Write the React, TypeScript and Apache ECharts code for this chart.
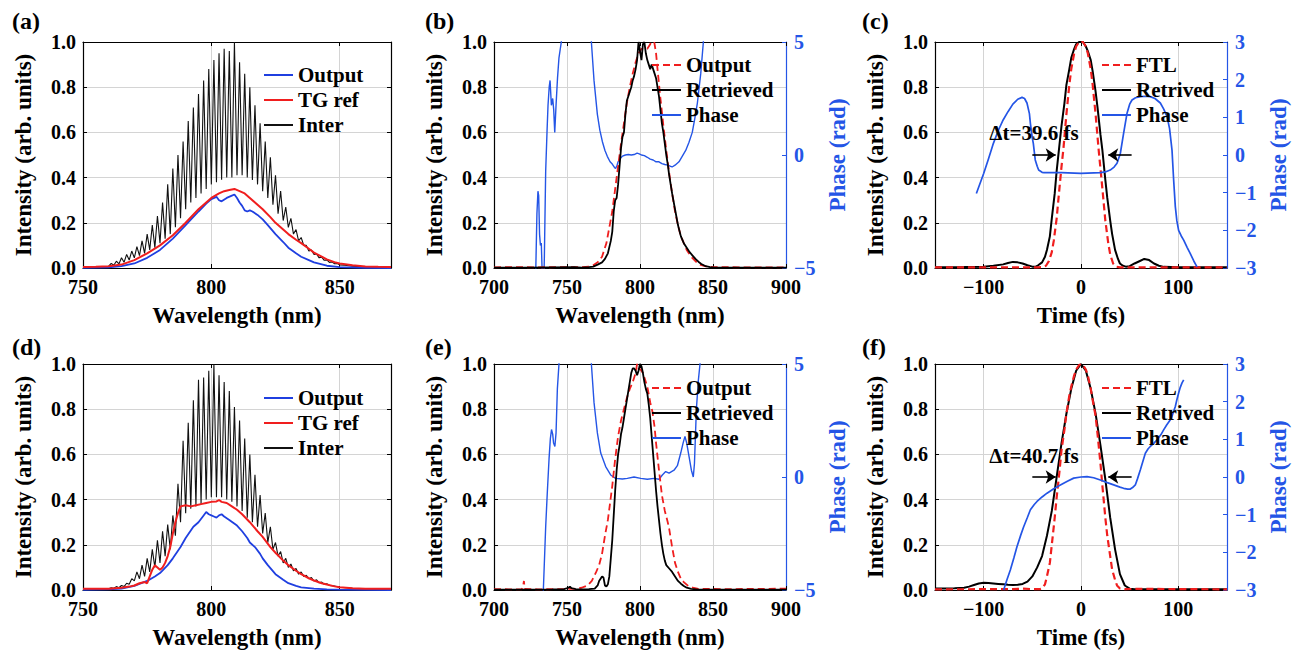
import React, { useEffect, useRef } from "react";
import * as echarts from "echarts";

const FONT = "Liberation Serif";
const BLUE_OUT = "#1f3fe0";
const BLUE_PH = "#2455e6";
const RED = "#f01e1e";
const GRIDC = "#d4d4d4";

// ---------- Panel (a) ----------
const aInter: number[][] = [
  [750, 0.002], [755, 0.004], [758, 0.006],
  [760, 0.008], [761, 0.02], [762, 0.012], [763, 0.03], [764, 0.018], [765, 0.045], [766, 0.025], [767, 0.06], [768, 0.035], [769, 0.075],
  [770, 0.045], [771, 0.095], [772, 0.055], [773, 0.12], [774, 0.065], [775, 0.15], [776, 0.08], [777, 0.19], [778, 0.09], [779, 0.23],
  [780, 0.11], [781, 0.29], [782, 0.13], [783, 0.37], [784, 0.15], [785, 0.44], [786, 0.18], [787, 0.5], [788, 0.22], [789, 0.56],
  [790, 0.26], [791, 0.65], [792, 0.29], [793, 0.71], [794, 0.31], [795, 0.77], [796, 0.33], [797, 0.83], [798, 0.35], [799, 0.88],
  [800, 0.37], [801, 0.92], [802, 0.38], [803, 0.95], [804, 0.39], [805, 0.97], [806, 0.4], [807, 0.96], [808, 0.4], [809, 1.0],
  [810, 0.41], [811, 0.91], [812, 0.41], [813, 0.86], [814, 0.4], [815, 0.8], [816, 0.39], [817, 0.72], [818, 0.37], [819, 0.64],
  [820, 0.34], [821, 0.56], [822, 0.31], [823, 0.49], [824, 0.28], [825, 0.41], [826, 0.24], [827, 0.34], [828, 0.21], [829, 0.27],
  [830, 0.18], [831, 0.22], [832, 0.15], [833, 0.17], [834, 0.12], [835, 0.135], [836, 0.1], [837, 0.1], [838, 0.075], [839, 0.08],
  [840, 0.06], [841, 0.062], [842, 0.045], [843, 0.048], [844, 0.034], [845, 0.036], [846, 0.025], [847, 0.027], [848, 0.019], [849, 0.02],
  [850, 0.014], [852, 0.012], [855, 0.008], [860, 0.005], [865, 0.003], [870, 0.002],
];
const aTG: number[][] = [
  [750, 0.004], [755, 0.005], [760, 0.008], [765, 0.015], [770, 0.035], [775, 0.065], [780, 0.1], [785, 0.145], [790, 0.2], [795, 0.26],
  [800, 0.31], [803, 0.33], [805, 0.34], [807, 0.345], [809, 0.35], [811, 0.34], [813, 0.33], [815, 0.31], [818, 0.28], [820, 0.26],
  [823, 0.225], [825, 0.2], [828, 0.17], [830, 0.15], [833, 0.125], [835, 0.11], [838, 0.085], [840, 0.068], [843, 0.05], [845, 0.038],
  [848, 0.026], [850, 0.02], [855, 0.012], [860, 0.007], [865, 0.005], [870, 0.004],
];
const aOut: number[][] = [
  [750, 0.001], [760, 0.003], [765, 0.008], [770, 0.02], [775, 0.045], [780, 0.08], [785, 0.13], [790, 0.19], [795, 0.25], [798, 0.285],
  [800, 0.305], [802, 0.315], [803, 0.3], [804, 0.295], [806, 0.31], [808, 0.32], [809, 0.325], [810, 0.31], [811, 0.29], [812, 0.275],
  [813, 0.255], [814, 0.25], [815, 0.255], [816, 0.25], [818, 0.235], [820, 0.215], [822, 0.19], [825, 0.15], [828, 0.115], [830, 0.09],
  [833, 0.065], [835, 0.05], [838, 0.035], [840, 0.025], [845, 0.01], [850, 0.004], [860, 0.001], [870, 0],
];

// ---------- Panel (d) ----------
const dInter: number[][] = [
  [750, 0.003], [755, 0.004], [758, 0.005],
  [760, 0.005], [761, 0.01], [762, 0.008], [763, 0.015], [764, 0.01], [765, 0.02], [766, 0.015], [767, 0.03], [768, 0.025], [769, 0.05],
  [770, 0.04], [771, 0.08], [772, 0.05], [773, 0.11], [774, 0.06], [775, 0.14], [776, 0.08], [777, 0.18], [778, 0.1], [779, 0.22],
  [780, 0.12], [781, 0.26], [782, 0.15], [783, 0.29], [784, 0.18], [785, 0.33], [786, 0.24], [787, 0.47], [788, 0.3], [789, 0.66],
  [790, 0.34], [791, 0.74], [792, 0.36], [793, 0.84], [794, 0.37], [795, 0.93], [796, 0.38], [797, 0.94], [798, 0.4], [799, 0.97],
  [800, 0.41], [801, 1.0], [802, 0.41], [803, 0.95], [804, 0.41], [805, 0.92], [806, 0.4], [807, 0.88], [808, 0.39], [809, 0.81],
  [810, 0.37], [811, 0.75], [812, 0.35], [813, 0.67], [814, 0.32], [815, 0.6], [816, 0.3], [817, 0.51], [818, 0.28], [819, 0.42],
  [820, 0.25], [821, 0.34], [822, 0.21], [823, 0.28], [824, 0.18], [825, 0.21], [826, 0.15], [827, 0.17], [828, 0.12], [829, 0.14],
  [830, 0.1], [831, 0.115], [832, 0.085], [833, 0.095], [834, 0.07], [835, 0.08], [836, 0.06], [837, 0.065], [838, 0.05], [839, 0.055],
  [840, 0.04], [841, 0.045], [842, 0.032], [843, 0.035], [844, 0.025], [845, 0.028], [846, 0.02], [848, 0.018], [850, 0.012],
  [855, 0.008], [860, 0.005], [870, 0.003],
];
const dTG: number[][] = [
  [750, 0.006], [755, 0.005], [760, 0.006], [765, 0.01], [768, 0.015], [770, 0.02], [772, 0.03], [774, 0.035], [775, 0.03], [776, 0.06],
  [777, 0.09], [778, 0.11], [779, 0.1], [780, 0.09], [781, 0.1], [782, 0.12], [783, 0.15], [784, 0.19], [785, 0.25], [786, 0.3],
  [787, 0.34], [788, 0.37], [790, 0.375], [792, 0.37], [794, 0.375], [796, 0.38], [798, 0.385], [800, 0.39], [802, 0.392], [803, 0.398],
  [804, 0.39], [806, 0.385], [808, 0.37], [810, 0.355], [812, 0.335], [815, 0.3], [818, 0.26], [820, 0.235], [823, 0.19], [825, 0.165],
  [828, 0.13], [830, 0.11], [833, 0.085], [835, 0.07], [838, 0.052], [840, 0.042], [843, 0.03], [845, 0.024], [848, 0.016], [850, 0.012],
  [855, 0.008], [860, 0.006], [865, 0.005], [870, 0.006],
];
const dOut: number[][] = [
  [750, 0.001], [760, 0.003], [765, 0.006], [770, 0.018], [775, 0.04], [778, 0.06], [780, 0.075], [783, 0.11], [785, 0.14], [788, 0.19],
  [790, 0.23], [793, 0.28], [795, 0.3], [797, 0.33], [798, 0.345], [799, 0.335], [800, 0.33], [801, 0.325], [802, 0.32], [803, 0.33],
  [804, 0.335], [805, 0.325], [807, 0.31], [810, 0.285], [812, 0.26], [814, 0.23], [815, 0.21], [817, 0.19], [819, 0.16], [820, 0.14],
  [822, 0.11], [825, 0.07], [828, 0.045], [830, 0.03], [833, 0.018], [835, 0.012], [840, 0.006], [845, 0.003], [850, 0.002], [870, 0],
];

// ---------- Panel (b) ----------
const bRetr: number[][] = [
  [700, 0.002], [720, 0.002], [740, 0.003], [755, 0.004], [760, 0.002], [765, 0.004], [768, 0.006], [771, 0.015], [774, 0.025], [776, 0.04],
  [778, 0.065], [780, 0.12], [781, 0.16], [782, 0.25], [783, 0.3], [784, 0.31], [785, 0.37], [786, 0.45], [787, 0.53], [788, 0.58],
  [789, 0.6], [790, 0.68], [791, 0.74], [792, 0.76], [793, 0.78], [794, 0.8], [795, 0.83], [796, 0.85], [797, 0.88], [798, 0.92],
  [799, 1.0], [800, 0.96], [801, 0.92], [802, 0.99], [803, 1.0], [804, 0.95], [805, 0.92], [806, 0.9], [807, 0.88], [808, 0.9],
  [809, 0.88], [810, 0.86], [811, 0.84], [812, 0.8], [813, 0.76], [814, 0.7], [815, 0.64], [816, 0.6], [817, 0.55], [818, 0.5],
  [819, 0.46], [820, 0.41], [822, 0.33], [824, 0.26], [826, 0.19], [828, 0.14], [830, 0.11], [832, 0.09], [834, 0.07], [836, 0.055],
  [838, 0.04], [840, 0.028], [842, 0.018], [845, 0.008], [848, 0.004], [850, 0.003], [860, 0.002], [900, 0.002],
];
const bOut: number[][] = [
  [700, 0.003], [710, 0.004], [730, 0.003], [750, 0.004], [760, 0.004], [765, 0.006], [768, 0.012], [771, 0.025], [774, 0.05], [777, 0.11],
  [779, 0.18], [781, 0.25], [783, 0.35], [785, 0.45], [787, 0.55], [789, 0.64], [791, 0.73], [793, 0.8], [795, 0.86], [797, 0.91],
  [799, 0.95], [801, 0.97], [803, 0.97], [805, 0.97], [807, 0.99], [809, 1.03], [811, 0.95], [812, 0.88], [814, 0.75], [816, 0.63],
  [818, 0.52], [820, 0.42], [822, 0.33], [824, 0.25], [826, 0.19], [828, 0.14], [830, 0.11], [832, 0.08], [835, 0.05], [838, 0.03],
  [841, 0.015], [845, 0.007], [850, 0.004], [870, 0.003], [900, 0.003],
];
const bPhase: number[][] = [
  [728.3, -6], [728.8, -4.5], [729.4, -2.6], [730.1, -1.6], [730.6, -1.8], [731.2, -3.5], [731.8, -4.0], [732.4, -3.9], [733, -5.2],
  [734, -6], [734.5, -4.5], [735.4, -0.7], [736.3, 1.0], [737, 2.2], [737.8, 3.0], [738.4, 3.3], [739.3, 2.2], [740.2, 2.5], [740.9, 2.0],
  [741.6, 1.0], [742.5, 2.2], [743.5, 3.4], [744.5, 4.3], [746.1, 5.0], [747.5, 7], [750, 9], [764, 9], [765.5, 7], [766.7, 5.0],
  [768.5, 3.3], [770.8, 1.8], [772.5, 1.1], [774.2, 0.6], [776, 0.2], [777.6, -0.06], [779.5, -0.3], [781, -0.4], [782.5, -0.55],
  [783.3, -0.6], [784.3, -0.45], [785, -0.3], [786.5, -0.15], [788, -0.05], [790, 0.0], [792, 0.02], [794, 0.0], [796, 0.02], [798, 0.08],
  [799.5, 0.05], [801, 0.0], [803, -0.03], [805, -0.1], [807, -0.18], [809, -0.22], [811, -0.3], [813, -0.3], [815, -0.38], [817, -0.42],
  [819, -0.45], [821, -0.5], [822, -0.53], [824, -0.45], [826.7, -0.3], [829, -0.05], [831.3, 0.2], [833.5, 0.55], [835.8, 1.0],
  [837.5, 1.6], [839.3, 2.3], [841.6, 3.6], [843.4, 5], [844.5, 7], [846, 9],
];

// ---------- Panel (e) ----------
const eRetr: number[][] = [
  [700, 0.002], [720, 0.002], [740, 0.003], [748, 0.004], [751, 0.01], [752, 0.015], [753, 0.008], [756, 0.004], [760, 0.003], [765, 0.004],
  [769, 0.006], [771, 0.02], [772, 0.04], [773, 0.05], [774, 0.06], [775, 0.055], [776, 0.02], [777, 0.015], [778, 0.025], [779, 0.06],
  [780, 0.14], [781, 0.22], [782, 0.33], [783, 0.44], [784, 0.53], [785, 0.6], [786, 0.64], [787, 0.69], [788, 0.72], [789, 0.76],
  [790, 0.8], [791, 0.84], [792, 0.88], [793, 0.92], [794, 0.96], [795, 0.98], [796, 0.98], [797, 0.97], [798, 0.95], [799, 0.97],
  [800, 1.0], [801, 0.99], [802, 0.96], [803, 0.92], [804, 0.89], [805, 0.87], [806, 0.82], [807, 0.76], [808, 0.68], [809, 0.6],
  [810, 0.52], [811, 0.44], [812, 0.37], [813, 0.31], [814, 0.25], [815, 0.2], [816, 0.16], [817, 0.13], [818, 0.11], [820, 0.095],
  [822, 0.08], [824, 0.06], [826, 0.04], [828, 0.028], [830, 0.018], [832, 0.01], [835, 0.005], [840, 0.002], [900, 0.002],
];
const eOut: number[][] = [
  [700, 0.004], [710, 0.003], [719, 0.003], [720, 0.02], [720.5, 0.04], [721, 0.005], [730, 0.003], [745, 0.004], [755, 0.005], [760, 0.01],
  [764, 0.02], [767, 0.04], [770, 0.08], [772, 0.11], [774, 0.16], [776, 0.24], [778, 0.31], [779, 0.36], [781, 0.46], [783, 0.58],
  [785, 0.68], [787, 0.75], [789, 0.8], [791, 0.85], [793, 0.89], [795, 0.92], [797, 0.96], [798, 1.0], [799, 0.98], [800.5, 0.975],
  [802, 0.96], [803, 0.94], [805, 0.9], [807, 0.83], [808.5, 0.79], [810, 0.72], [811, 0.65], [813, 0.53], [815, 0.42], [817, 0.35],
  [819, 0.3], [820, 0.27], [822, 0.19], [824, 0.12], [826, 0.08], [828, 0.05], [830, 0.035], [833, 0.018], [836, 0.01], [840, 0.005],
  [860, 0.004], [880, 0.005], [900, 0.006],
];
const ePhase: number[][] = [
  [733, -6], [733.8, -5], [735.4, -2.2], [736.5, -0.7], [737.7, 0.8], [738.6, 1.7], [739.4, 2.1], [740.2, 1.9], [740.8, 1.5],
  [741.7, 1.35], [742.5, 1.95], [743.4, 3.9], [744.5, 5], [745.5, 7], [747, 9], [764, 9], [765.5, 7], [766.7, 5], [768.5, 3.3],
  [770.8, 1.95], [773.1, 1.06], [776.5, 0.46], [779.9, 0.09], [783.3, -0.06], [787.9, -0.09], [791.3, -0.06], [795.9, 0.0],
  [800.5, -0.06], [805, -0.1], [809.6, -0.06], [813, -0.1], [815.3, 0.09], [817.6, 0.24], [819.9, 0.17], [823.3, 0.3], [825.6, 0.5],
  [827.9, 1.06], [829.5, 1.5], [830.8, 1.8], [832, 1.5], [833.6, 0.9], [835.2, 0.3], [836.5, 0.0], [837.3, 0.6], [838.6, 2.98],
  [840, 4.3], [841.1, 5], [842, 7], [843.5, 9],
];

// ---------- Panel (c) ----------
const cRetr: number[][] = [
  [-150, 0.003], [-120, 0.004], [-100, 0.006], [-90, 0.01], [-80, 0.016], [-75, 0.022], [-70, 0.027], [-65, 0.025], [-60, 0.02],
  [-55, 0.012], [-50, 0.006], [-47, 0.005], [-44, 0.012], [-40, 0.025], [-37, 0.05], [-35, 0.08], [-32, 0.14], [-30, 0.22], [-27, 0.33],
  [-25, 0.43], [-22, 0.55], [-20, 0.63], [-17, 0.73], [-15, 0.81], [-12, 0.88], [-10, 0.93], [-7, 0.97], [-5, 0.99], [-2, 1.0], [0, 1.0],
  [2, 1.0], [5, 0.98], [7, 0.96], [10, 0.92], [12, 0.87], [15, 0.78], [17, 0.71], [20, 0.59], [22, 0.52], [25, 0.39], [27, 0.31],
  [30, 0.21], [32, 0.15], [35, 0.08], [38, 0.04], [40, 0.02], [43, 0.01], [46, 0.006], [50, 0.008], [55, 0.02], [60, 0.03], [65, 0.04],
  [70, 0.035], [75, 0.02], [80, 0.01], [85, 0.005], [100, 0.003], [150, 0.003],
];
const cFTL: number[][] = [
  [-150, 0.003], [-45, 0.003], [-40, 0.004], [-36, 0.01], [-33, 0.03], [-30, 0.07], [-28, 0.12], [-25, 0.22], [-22, 0.36], [-20, 0.45],
  [-18, 0.53], [-15, 0.68], [-12, 0.81], [-10, 0.88], [-7, 0.95], [-5, 0.98], [-2, 1.0], [0, 1.0], [2, 1.0], [5, 0.98], [7, 0.95],
  [10, 0.88], [12, 0.81], [15, 0.68], [18, 0.53], [20, 0.44], [22, 0.35], [25, 0.21], [28, 0.11], [30, 0.06], [33, 0.02], [36, 0.006],
  [40, 0.003], [150, 0.003],
];
const cPhase: number[][] = [
  [-107.5, -1.02], [-100, -0.49], [-95, -0.1], [-90, 0.31], [-85, 0.65], [-80, 0.93], [-75, 1.15], [-70, 1.35], [-65, 1.48],
  [-60.6, 1.53], [-58, 1.5], [-55.5, 1.38], [-53, 1.1], [-52, 0.84], [-50, 0.45], [-49, 0.31], [-47, -0.13], [-45, -0.3], [-43.5, -0.4],
  [-40, -0.46], [-38, -0.47], [-20, -0.47], [0, -0.49], [20, -0.47], [25, -0.45], [30, -0.4], [34, -0.32], [37, -0.22], [40.4, 0.04],
  [43.8, 0.58], [47.3, 1.11], [50, 1.35], [52.4, 1.46], [56, 1.52], [61, 1.55], [66, 1.56], [71, 1.55], [76, 1.5], [81.5, 1.38],
  [85, 1.22], [88.4, 1.02], [91, 0.7], [93.5, 0.13], [95.2, -0.67], [96.9, -1.37], [98.5, -1.75], [100.3, -2.0], [103, -2.15],
  [105.5, -2.26], [109, -2.45], [112.3, -2.62], [116, -2.82], [119.2, -2.97],
];

// ---------- Panel (f) ----------
const fRetr: number[][] = [
  [-150, 0.007], [-140, 0.007], [-130, 0.008], [-120, 0.01], [-115, 0.015], [-110, 0.022], [-105, 0.029], [-100, 0.032], [-95, 0.031],
  [-90, 0.029], [-85, 0.027], [-80, 0.025], [-75, 0.023], [-70, 0.022], [-65, 0.023], [-60, 0.027], [-55, 0.037], [-50, 0.06],
  [-45, 0.1], [-40, 0.15], [-35, 0.24], [-30, 0.35], [-25, 0.5], [-20, 0.65], [-15, 0.78], [-10, 0.89], [-5, 0.97], [0, 1.0], [5, 0.97],
  [10, 0.89], [15, 0.78], [20, 0.64], [25, 0.49], [30, 0.32], [35, 0.18], [40, 0.07], [45, 0.02], [50, 0.006], [55, 0.003], [150, 0.003],
];
const fFTL: number[][] = [
  [-150, 0.003], [-70, 0.004], [-60, 0.006], [-50, 0.004], [-42, 0.004], [-40, 0.007], [-37, 0.025], [-35, 0.06], [-32, 0.12],
  [-30, 0.2], [-27, 0.32], [-25, 0.41], [-22, 0.53], [-20, 0.62], [-17, 0.71], [-15, 0.78], [-12, 0.86], [-10, 0.9], [-7, 0.95],
  [-5, 0.975], [-2, 0.995], [0, 1.0], [2, 0.995], [5, 0.975], [7, 0.95], [10, 0.89], [12, 0.84], [15, 0.77], [17, 0.69], [20, 0.56],
  [22, 0.46], [25, 0.32], [27, 0.24], [30, 0.15], [32, 0.09], [35, 0.045], [37, 0.02], [40, 0.007], [45, 0.004], [60, 0.005], [150, 0.003],
];
const fPhase: number[][] = [
  [-79.5, -3.0], [-76, -2.72], [-72.6, -2.47], [-69, -2.15], [-65.8, -1.85], [-62, -1.55], [-58.9, -1.32], [-55, -1.07], [-52, -0.87],
  [-48, -0.73], [-45.2, -0.65], [-40, -0.53], [-34.9, -0.43], [-28, -0.31], [-21.2, -0.21], [-14, -0.11], [-7.5, -0.03], [0, 0.0],
  [6.2, 0.01], [13, -0.02], [19.9, -0.08], [27, -0.15], [33.6, -0.21], [40, -0.27], [43.8, -0.3], [48, -0.32], [50.7, -0.32],
  [53, -0.28], [55.8, -0.21], [58, -0.05], [61, 0.19], [64, 0.45], [66.1, 0.63], [69, 0.75], [71.2, 0.81], [75, 0.9], [78.1, 0.99],
  [82, 1.12], [84.9, 1.25], [88, 1.38], [91.8, 1.52], [94, 1.65], [96.9, 1.87], [98.5, 2.05], [100.3, 2.23], [102, 2.38],
  [103.8, 2.5], [105.5, 2.58],
];

// annotations (data coords): FWHM arrows at y = 0.5
const arrowsC = [[-50, -26], [52, 28]];
const arrowsF = [[-50, -26], [52, 28]];
const labelC = "\u0394t=39.6 fs";
const labelF = "\u0394t=40.7 fs";

const timeTicks = [-100, 0, 100];

const grids = [
  { left: 83, top: 42, width: 308, height: 226 },
  { left: 494, top: 42, width: 292, height: 226 },
  { left: 935, top: 42, width: 292, height: 226 },
  { left: 83, top: 364, width: 308, height: 226 },
  { left: 494, top: 364, width: 292, height: 226 },
  { left: 935, top: 364, width: 292, height: 226 },
];

const minusFmt = (v: number) => (v < 0 ? "\u2212" + Math.abs(v) : String(v));

function tickFont(color = "#000") {
  return { fontFamily: FONT, fontWeight: "bold", fontSize: 20, color };
}
function nameFont(color = "#000") {
  return { fontFamily: FONT, fontWeight: "bold", fontSize: 23, color };
}

function bottomX(gi: number, min: number, max: number, interval: number | null, name: string, hideMax: boolean) {
  const ax: any = {
    type: "value", gridIndex: gi, position: "bottom", min, max,
    name, nameLocation: "middle", nameGap: 36, nameTextStyle: nameFont(),
    axisLine: { onZero: false, lineStyle: { color: "#000", width: 1.2 } },
    axisTick: { inside: true, length: 4, lineStyle: { color: "#000" } },
    axisLabel: { margin: 9, formatter: minusFmt, showMaxLabel: !hideMax, ...tickFont() },
    splitLine: { show: true, lineStyle: { color: GRIDC, width: 1 } },
  };
  if (interval != null) ax.interval = interval;
  else {
    ax.axisTick.customValues = timeTicks;
    ax.axisLabel.customValues = timeTicks;
  }
  return ax;
}
function topX(gi: number, min: number, max: number, interval: number | null) {
  const ax: any = {
    type: "value", gridIndex: gi, position: "top", min, max,
    axisLine: { onZero: false, lineStyle: { color: "#000", width: 1.2 } },
    axisTick: { inside: true, length: 4, lineStyle: { color: "#000" } },
    axisLabel: { show: false },
    splitLine: { show: false },
  };
  if (interval != null) ax.interval = interval;
  else ax.axisTick.customValues = timeTicks;
  return ax;
}
function leftY(gi: number) {
  return {
    type: "value", gridIndex: gi, position: "left", min: 0, max: 1, interval: 0.2,
    name: "Intensity (arb. units)", nameLocation: "middle", nameRotate: 90, nameGap: 48, nameTextStyle: nameFont(),
    axisLine: { onZero: false, lineStyle: { color: "#000", width: 1.2 } },
    axisTick: { inside: true, length: 4, lineStyle: { color: "#000" } },
    axisLabel: { margin: 7, formatter: (v: number) => v.toFixed(1), ...tickFont() },
    splitLine: { show: true, lineStyle: { color: GRIDC, width: 1 } },
  };
}
function mirrorY(gi: number) {
  return {
    type: "value", gridIndex: gi, position: "right", min: 0, max: 1, interval: 0.2,
    axisLine: { show: true, onZero: false, lineStyle: { color: "#000", width: 1.2 } },
    axisTick: { show: true, inside: true, length: 4, lineStyle: { color: "#000" } },
    axisLabel: { show: false }, splitLine: { show: false },
  };
}
function phaseY(gi: number, min: number, max: number, interval: number) {
  return {
    type: "value", gridIndex: gi, position: "right", min, max, interval,
    name: "Phase (rad)", nameLocation: "middle", nameRotate: 90, nameGap: 40,
    nameTextStyle: nameFont(BLUE_PH),
    axisLine: { show: true, onZero: false, lineStyle: { color: BLUE_PH, width: 1.2 } },
    axisTick: { show: true, inside: true, length: 4, lineStyle: { color: BLUE_PH } },
    axisLabel: { margin: 8, formatter: minusFmt, ...tickFont(BLUE_PH) },
    splitLine: { show: false },
  };
}

function line(name: string, p: number, data: number[][], color: string, width: number, dashed: boolean, right = false): any {
  return {
    type: "line", name, xAxisIndex: 2 * p, yAxisIndex: right ? 2 * p + 1 : 2 * p, data,
    symbol: "none", showSymbol: false, clip: true,
    lineStyle: { color, width, type: dashed ? [7, 4] : "solid" },
    itemStyle: { color }, emphasis: { disabled: true },
  };
}

function arrowMark(arrows: number[][]) {
  return {
    silent: true, symbol: ["none", "arrow"], symbolSize: [10, 10],
    lineStyle: { color: "#000", width: 1.6, type: "solid" },
    label: { show: false },
    data: arrows.map((a) => [{ coord: [a[0], 0.5] }, { coord: [a[1], 0.5] }]),
  };
}

function legend(names: string[], left: number, top: number) {
  return {
    orient: "vertical", left, top, padding: 0, itemWidth: 29, itemHeight: 14, itemGap: 4,
    selectedMode: false, data: names,
    itemStyle: { opacity: 0 },
    formatter: (n: string) => n.split("#")[0],
    textStyle: { fontFamily: FONT, fontWeight: "bold", fontSize: 21, color: "#000", lineHeight: 21 },
  };
}

function labelText(text: string, left: number, top: number) {
  return {
    type: "text", left, top, z: 100,
    style: { text, fontFamily: FONT, fontWeight: "bold", fontSize: 24, fill: "#000" },
  };
}
function dtText(text: string, x: number, y: number) {
  return {
    type: "text", x, y, z: 100,
    style: { text, fontFamily: FONT, fontWeight: "bold", fontSize: 21, fill: "#000", align: "center", verticalAlign: "middle" },
  };
}

export default function App() {
  const ref = useRef<HTMLDivElement>(null);
  useEffect(() => {
    if (!ref.current) return;
    const chart = echarts.init(ref.current, undefined, { renderer: "svg" });
    const cRetrSeries = line("Retrived#c", 2, cRetr, "#000", 2, false);
    cRetrSeries.markLine = arrowMark(arrowsC);
    const fRetrSeries = line("Retrived#f", 5, fRetr, "#000", 2, false);
    fRetrSeries.markLine = arrowMark(arrowsF);
    const option: any = {
      animation: false,
      backgroundColor: "#fff",
      grid: grids.map((g) => ({ ...g, containLabel: false })),
      xAxis: [
        bottomX(0, 750, 870, 50, "Wavelength (nm)", true), topX(0, 750, 870, 50),
        bottomX(1, 700, 900, 50, "Wavelength (nm)", false), topX(1, 700, 900, 50),
        bottomX(2, -150, 150, null, "Time (fs)", false), topX(2, -150, 150, null),
        bottomX(3, 750, 870, 50, "Wavelength (nm)", true), topX(3, 750, 870, 50),
        bottomX(4, 700, 900, 50, "Wavelength (nm)", false), topX(4, 700, 900, 50),
        bottomX(5, -150, 150, null, "Time (fs)", false), topX(5, -150, 150, null),
      ],
      yAxis: [
        leftY(0), mirrorY(0),
        leftY(1), phaseY(1, -5, 5, 5),
        leftY(2), phaseY(2, -3, 3, 1),
        leftY(3), mirrorY(3),
        leftY(4), phaseY(4, -5, 5, 5),
        leftY(5), phaseY(5, -3, 3, 1),
      ],
      legend: [
        legend(["Output#a", "TG ref#a", "Inter#a"], 263, 64.5),
        legend(["Output#b", "Retrieved#b", "Phase#b"], 651, 54.5),
        legend(["FTL#c", "Retrived#c", "Phase#c"], 1101, 54.5),
        legend(["Output#d", "TG ref#d", "Inter#d"], 263, 387.5),
        legend(["Output#e", "Retrieved#e", "Phase#e"], 651, 377.5),
        legend(["FTL#f", "Retrived#f", "Phase#f"], 1101, 377.5),
      ],
      series: [
        line("Inter#a", 0, aInter, "#111", 1.1, false),
        line("Output#a", 0, aOut, BLUE_OUT, 1.8, false),
        line("TG ref#a", 0, aTG, RED, 2, false),

        line("Phase#b", 1, bPhase, BLUE_PH, 1.4, false, true),
        line("Output#b", 1, bOut, RED, 1.8, true),
        line("Retrieved#b", 1, bRetr, "#000", 1.8, false),

        cRetrSeries,
        line("FTL#c", 2, cFTL, RED, 2.2, true),
        line("Phase#c", 2, cPhase, BLUE_PH, 1.7, false, true),

        line("Inter#d", 3, dInter, "#111", 1.1, false),
        line("Output#d", 3, dOut, BLUE_OUT, 1.8, false),
        line("TG ref#d", 3, dTG, RED, 2, false),

        line("Phase#e", 4, ePhase, BLUE_PH, 1.4, false, true),
        line("Output#e", 4, eOut, RED, 1.8, true),
        line("Retrieved#e", 4, eRetr, "#000", 1.8, false),

        fRetrSeries,
        line("FTL#f", 5, fFTL, RED, 2.2, true),
        line("Phase#f", 5, fPhase, BLUE_PH, 1.7, false, true),
      ],
      graphic: [
        labelText("(a)", 12, 9), labelText("(b)", 425, 9), labelText("(c)", 862, 9),
        labelText("(d)", 12, 335), labelText("(e)", 425, 335), labelText("(f)", 862, 335),
        dtText(labelC, 1034, 133), dtText(labelF, 1034, 456),
      ],
    };
    chart.setOption(option);
    return () => chart.dispose();
  }, []);
  return (
    <div
      ref={ref}
      style={{ position: "fixed", left: 0, top: 0, width: 1307, height: 662, background: "#fff" }}
    />
  );
}
